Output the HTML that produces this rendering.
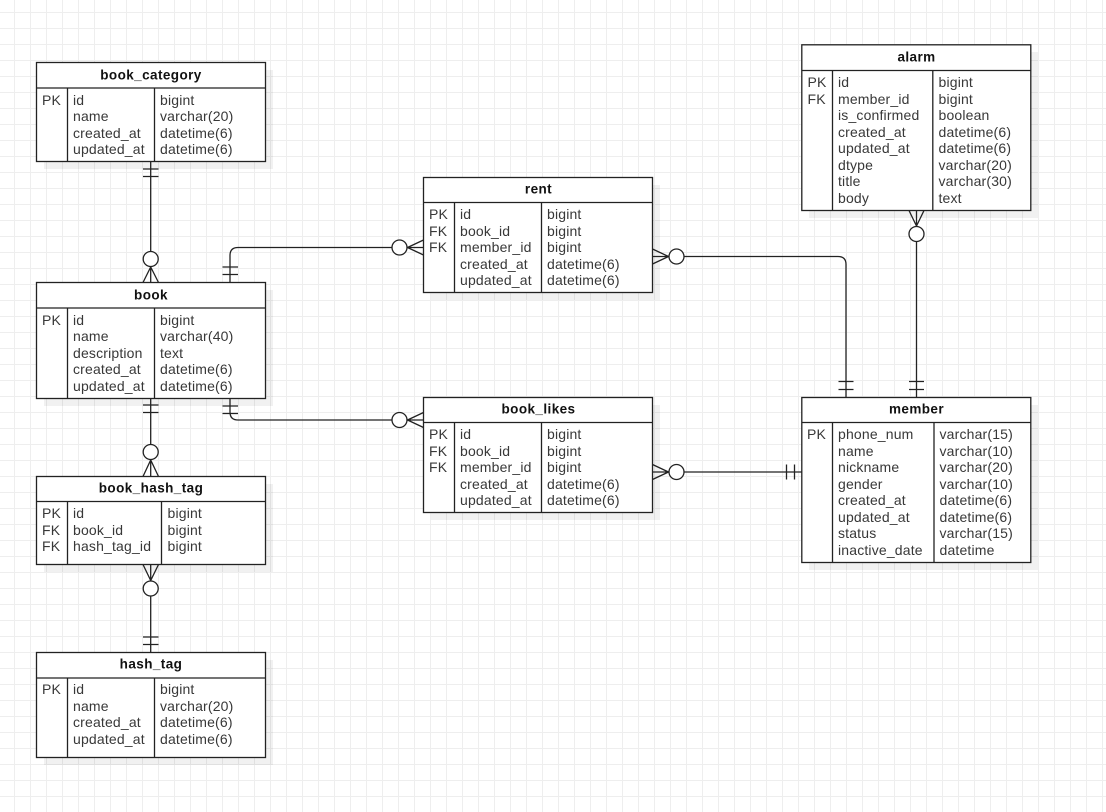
<!DOCTYPE html>
<html><head><meta charset="utf-8"><title>ERD</title>
<style>
html,body{margin:0;padding:0;background:#fff}
svg{display:block}
text{font-family:"Liberation Sans",Arial,sans-serif;font-size:14px;fill:#383838;letter-spacing:.17px}
text.t{font-weight:bold;fill:#111;text-anchor:middle;font-size:13.5px;letter-spacing:.42px}
.b{fill:#fff;stroke:#222;stroke-width:1.3}
.l{fill:none;stroke:#222;stroke-width:1.3}
.c{fill:#fff;stroke:#222;stroke-width:1.3}
.s{fill:#000;opacity:.055}
</style></head><body>
<svg width="1106" height="812" viewBox="0 0 1106 812" xmlns="http://www.w3.org/2000/svg">
<defs>
<pattern id="g" x="14" y="12" width="16" height="16" patternUnits="userSpaceOnUse">
<path d="M.5 0V16M0 .5H16" fill="none" stroke="#eeeeee" stroke-width="1"/>
</pattern>
</defs>
<rect width="1106" height="812" fill="#fff"/>
<rect width="1106" height="812" fill="url(#g)"/>

<!-- shadows -->
<rect class="s" x="44" y="70" width="229" height="99"/>
<rect class="s" x="431" y="185" width="229" height="115"/>
<rect class="s" x="44" y="290" width="229" height="116"/>
<rect class="s" x="431" y="405" width="229" height="115"/>
<rect class="s" x="809" y="405" width="229" height="165"/>
<rect class="s" x="809" y="52" width="229" height="166"/>
<rect class="s" x="44" y="484" width="229" height="88"/>
<rect class="s" x="44" y="660" width="229" height="105"/>

<!-- connectors -->
<path class="l" d="M150.700 161.500V282.500M143 169H158.500M143 176.500H158.500M150.700 267L143 282.500M150.700 267L158.500 282.500"/>
<circle class="c" cx="150.700" cy="259" r="7.500"/>
<path class="l" d="M230 282.500V255.500Q230 247.500 238 247.500H423.500M222.500 267H238M222.500 274.500H238M407.500 247.500L423.500 240M407.500 247.500L423.500 255"/>
<circle class="c" cx="399.500" cy="247.500" r="7.500"/>
<path class="l" d="M230 398.500V412Q230 420 238 420H423.500M222.500 406H238M222.500 413.500H238M407.500 420L423.500 412.500M407.500 420L423.500 427.500"/>
<circle class="c" cx="399.500" cy="420" r="7.500"/>
<path class="l" d="M652.500 256.500H838Q846 256.500 846 264.500V397.500M838.500 381.500H853.500M838.500 389.500H853.500M668.500 256.500L652.500 249M668.500 256.500L652.500 264"/>
<circle class="c" cx="676.500" cy="256.500" r="7.500"/>
<path class="l" d="M916.500 210.500V397.500M909 381.500H924M909 389.500H924M916.500 226L909 210.500M916.500 226L924 210.500"/>
<circle class="c" cx="916.500" cy="234" r="7.500"/>
<path class="l" d="M652.500 472H801.500M786.500 464.500V479.500M794.500 464.500V479.500M668.500 472L652.500 464.500M668.500 472L652.500 479.500"/>
<circle class="c" cx="676.500" cy="472" r="7.500"/>
<path class="l" d="M150.700 398.500V476.500M143 405H158.500M143 412.500H158.500M150.700 460L143 476.500M150.700 460L158.500 476.500"/>
<circle class="c" cx="150.700" cy="452" r="7.500"/>
<path class="l" d="M150.700 564.500V652.500M143 637H158.500M143 644.500H158.500M150.700 580.500L143 564.500M150.700 580.500L158.500 564.500"/>
<circle class="c" cx="150.700" cy="588.500" r="7.500"/>

<!-- book_category -->
<rect class="b" x="36.500" y="62.500" width="229" height="99"/>
<path class="l" d="M36.500 88H265.500M67.500 88V161.500M154.500 88V161.500"/>
<text class="t" x="151" y="79.500">book_category</text>
<text x="42" y="105">PK</text>
<text x="73" y="105">id</text><text x="73" y="121">name</text><text x="73" y="138">created_at</text><text x="73" y="154">updated_at</text>
<text x="160" y="105">bigint</text><text x="160" y="121">varchar(20)</text><text x="160" y="138">datetime(6)</text><text x="160" y="154">datetime(6)</text>

<!-- rent -->
<rect class="b" x="423.500" y="177.500" width="229" height="115"/>
<path class="l" d="M423.500 202.500H652.500M454.500 202.500V292.500M541.500 202.500V292.500"/>
<text class="t" x="538.500" y="193.500">rent</text>
<text x="429" y="219">PK</text><text x="429" y="236">FK</text><text x="429" y="252">FK</text>
<text x="460" y="219">id</text><text x="460" y="236">book_id</text><text x="460" y="252">member_id</text><text x="460" y="269">created_at</text><text x="460" y="285">updated_at</text>
<text x="547" y="219">bigint</text><text x="547" y="236">bigint</text><text x="547" y="252">bigint</text><text x="547" y="269">datetime(6)</text><text x="547" y="285">datetime(6)</text>

<!-- book -->
<rect class="b" x="36.500" y="282.500" width="229" height="116"/>
<path class="l" d="M36.500 308H265.500M67.500 308V398.500M154.500 308V398.500"/>
<text class="t" x="151" y="299.500">book</text>
<text x="42" y="325">PK</text>
<text x="73" y="325">id</text><text x="73" y="341">name</text><text x="73" y="358">description</text><text x="73" y="374">created_at</text><text x="73" y="391">updated_at</text>
<text x="160" y="325">bigint</text><text x="160" y="341">varchar(40)</text><text x="160" y="358">text</text><text x="160" y="374">datetime(6)</text><text x="160" y="391">datetime(6)</text>

<!-- book_likes -->
<rect class="b" x="423.500" y="397.500" width="229" height="115"/>
<path class="l" d="M423.500 422.500H652.500M454.500 422.500V512.500M541.500 422.500V512.500"/>
<text class="t" x="538.500" y="413.500">book_likes</text>
<text x="429" y="439">PK</text><text x="429" y="456">FK</text><text x="429" y="472">FK</text>
<text x="460" y="439">id</text><text x="460" y="456">book_id</text><text x="460" y="472">member_id</text><text x="460" y="489">created_at</text><text x="460" y="505">updated_at</text>
<text x="547" y="439">bigint</text><text x="547" y="456">bigint</text><text x="547" y="472">bigint</text><text x="547" y="489">datetime(6)</text><text x="547" y="505">datetime(6)</text>

<!-- member -->
<rect class="b" x="801.800" y="397.500" width="229" height="165"/>
<path class="l" d="M801.800 422.500H1030.800M832.500 422.500V562.500M934 422.500V562.500"/>
<text class="t" x="916.500" y="413.500">member</text>
<text x="807" y="439">PK</text>
<text x="838" y="439">phone_num</text><text x="838" y="456">name</text><text x="838" y="472">nickname</text><text x="838" y="489">gender</text><text x="838" y="505">created_at</text><text x="838" y="522">updated_at</text><text x="838" y="538">status</text><text x="838" y="555">inactive_date</text>
<text x="939.500" y="439">varchar(15)</text><text x="939.500" y="456">varchar(10)</text><text x="939.500" y="472">varchar(20)</text><text x="939.500" y="489">varchar(10)</text><text x="939.500" y="505">datetime(6)</text><text x="939.500" y="522">datetime(6)</text><text x="939.500" y="538">varchar(15)</text><text x="939.500" y="555">datetime</text>

<!-- alarm -->
<rect class="b" x="801.800" y="44.800" width="229" height="165.700"/>
<path class="l" d="M801.800 70.500H1030.800M832.500 70.500V210.500M932.800 70.500V210.500"/>
<text class="t" x="916.500" y="61.500">alarm</text>
<text x="807.500" y="87">PK</text><text x="807.500" y="104">FK</text>
<text x="838" y="87">id</text><text x="838" y="104">member_id</text><text x="838" y="120">is_confirmed</text><text x="838" y="137">created_at</text><text x="838" y="153">updated_at</text><text x="838" y="170">dtype</text><text x="838" y="186">title</text><text x="838" y="203">body</text>
<text x="938.500" y="87">bigint</text><text x="938.500" y="104">bigint</text><text x="938.500" y="120">boolean</text><text x="938.500" y="137">datetime(6)</text><text x="938.500" y="153">datetime(6)</text><text x="938.500" y="170">varchar(20)</text><text x="938.500" y="186">varchar(30)</text><text x="938.500" y="203">text</text>

<!-- book_hash_tag -->
<rect class="b" x="36.500" y="476.500" width="229" height="88"/>
<path class="l" d="M36.500 501.500H265.500M67.500 501.500V564.500M161.500 501.500V564.500"/>
<text class="t" x="151" y="492.500">book_hash_tag</text>
<text x="42" y="518">PK</text><text x="42" y="535">FK</text><text x="42" y="551">FK</text>
<text x="73" y="518">id</text><text x="73" y="535">book_id</text><text x="73" y="551">hash_tag_id</text>
<text x="167.500" y="518">bigint</text><text x="167.500" y="535">bigint</text><text x="167.500" y="551">bigint</text>

<!-- hash_tag -->
<rect class="b" x="36.500" y="652.500" width="229" height="105"/>
<path class="l" d="M36.500 678H265.500M67.500 678V757.500M154.500 678V757.500"/>
<text class="t" x="151" y="668.500">hash_tag</text>
<text x="42" y="694">PK</text>
<text x="73" y="694">id</text><text x="73" y="711">name</text><text x="73" y="727">created_at</text><text x="73" y="744">updated_at</text>
<text x="160" y="694">bigint</text><text x="160" y="711">varchar(20)</text><text x="160" y="727">datetime(6)</text><text x="160" y="744">datetime(6)</text>
</svg>
</body></html>
